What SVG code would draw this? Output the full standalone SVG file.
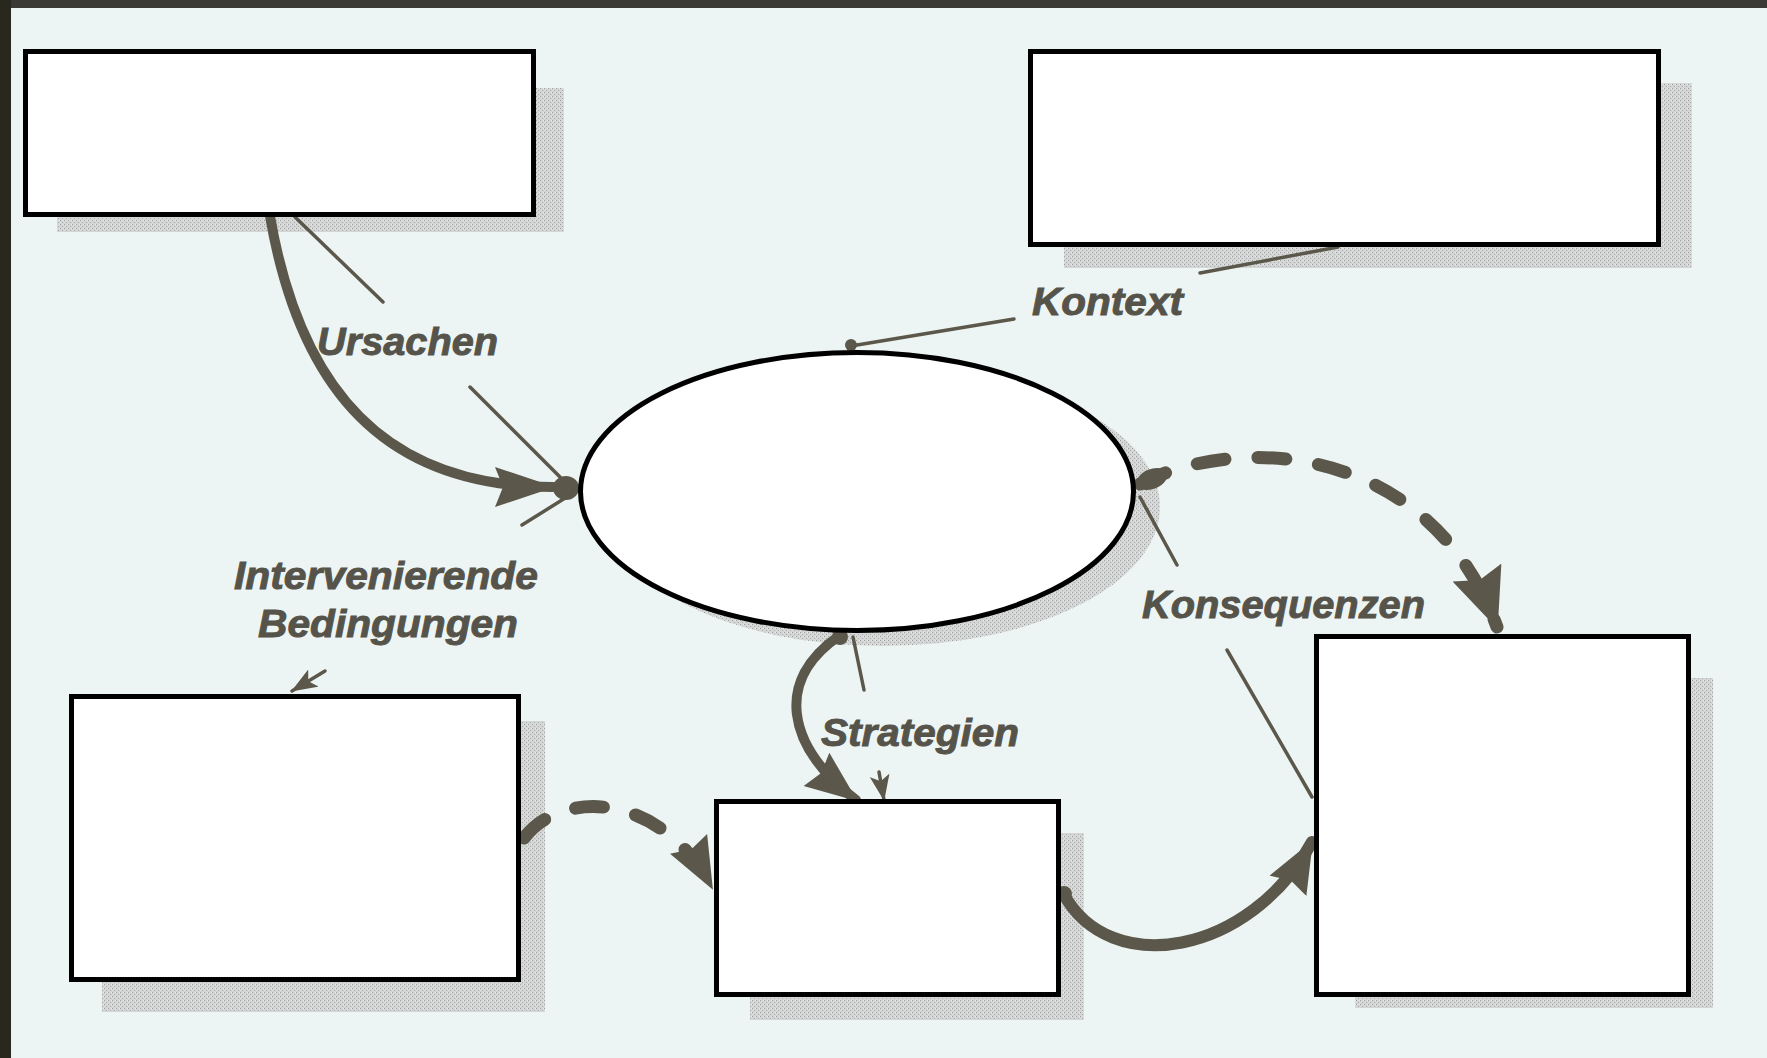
<svg xmlns="http://www.w3.org/2000/svg" width="1767" height="1058" viewBox="0 0 1767 1058">
<style>
.bg{fill:#edf5f4}
.shadow{fill:url(#stipple)}
.node{fill:#ffffff;stroke:#000000;stroke-width:5}
.thick{fill:none;stroke:#5b584b;stroke-width:10;stroke-linecap:round}
.dash{fill:none;stroke:#5b584b;stroke-width:13;stroke-linecap:round;stroke-dasharray:28 33}
.thin{fill:none;stroke:#5b584b;stroke-width:3.5;stroke-linecap:round}
.blob{fill:#5b584b}
.lbl{font-family:"Liberation Sans",Arial,sans-serif;font-weight:bold;font-style:italic;font-size:38px;fill:#55534a;stroke:#55534a;stroke-width:0.9}
</style>
<defs>
<pattern id="stipple" width="4" height="4" patternUnits="userSpaceOnUse">
<rect width="4" height="4" fill="#d4d7d6"/>
<rect x="0" y="0" width="1" height="1" fill="#9c9f9e"/>
<rect x="2" y="2" width="1" height="1" fill="#a9acab"/>
<rect x="3" y="0" width="1" height="1" fill="#e6e9e8"/>
</pattern>
<marker id="headL" markerUnits="userSpaceOnUse" viewBox="0 0 60 42" markerWidth="60" markerHeight="42" refX="58" refY="21" orient="auto">
<path d="M0,1 L60,21 L0,41 L8,21 Z" fill="#5b584b"/>
</marker>
<marker id="headXL" markerUnits="userSpaceOnUse" viewBox="0 0 60 54" markerWidth="60" markerHeight="54" refX="58" refY="27" orient="auto">
<path d="M0,1 L60,27 L0,53 L8,27 Z" fill="#5b584b"/>
</marker>
<marker id="headM" markerUnits="userSpaceOnUse" viewBox="0 0 52 44" markerWidth="52" markerHeight="44" refX="50" refY="22" orient="auto">
<path d="M0,1 L52,22 L0,43 L6,22 Z" fill="#5b584b"/>
</marker>
<marker id="headS" markerUnits="userSpaceOnUse" viewBox="0 0 26 20" markerWidth="26" markerHeight="20" refX="25" refY="10" orient="auto">
<path d="M0,0 L26,10 L0,20 L6,10 Z" fill="#5b584b"/>
</marker>
</defs>

<rect class="bg" x="0" y="0" width="1767" height="1058"/>
<rect x="0" y="0" width="1767" height="8" fill="#3b3a34"/>
<rect x="0" y="0" width="11" height="1058" fill="#29281f"/>

<g id="shadows">
<rect class="shadow" x="57" y="88" width="507" height="144"/>
<rect class="shadow" x="1064" y="83" width="628" height="185"/>
<ellipse class="shadow" cx="883" cy="507" rx="277" ry="139"/>
<rect class="shadow" x="102" y="721" width="443" height="291"/>
<rect class="shadow" x="750" y="833" width="334" height="187"/>
<rect class="shadow" x="1355" y="678" width="358" height="330"/>
</g>

<g id="connectors">
<!-- Ursachen -->
<path class="thick" d="M270,216 C300,390 385,487 553,487" marker-end="url(#headL)"/>
<line class="thin" x1="295" y1="217" x2="383" y2="302"/>
<line class="thin" x1="470" y1="387" x2="563" y2="480"/>
<ellipse class="blob" cx="566" cy="488" rx="13" ry="12"/>
<!-- Intervenierende Bedingungen -->
<line class="thin" x1="522" y1="525" x2="570" y2="495"/>
<path class="thin" d="M325,671 L292,691" marker-end="url(#headS)"/>
<!-- Kontext -->
<line class="thin" x1="851" y1="346" x2="1014" y2="319"/>
<line class="thin" x1="1200" y1="273" x2="1338" y2="247"/>
<circle class="blob" cx="851" cy="345" r="6"/>
<!-- Konsequenzen -->
<path class="dash" d="M1140,484 C1240,432 1430,445 1497,627" marker-end="url(#headXL)"/>
<ellipse class="blob" cx="1152" cy="479" rx="16" ry="10" transform="rotate(-22 1152 479)"/>
<line class="thin" x1="1140" y1="497" x2="1177" y2="565"/>
<line class="thin" x1="1227" y1="650" x2="1312" y2="797"/>
<!-- Strategien -->
<path class="thick" d="M839,636 C775,680 785,745 856,800" marker-end="url(#headM)"/>
<circle class="blob" cx="840" cy="637" r="8"/>
<line class="thin" x1="853" y1="637" x2="864" y2="690"/>
<path class="thin" d="M879,772 L884,800" marker-end="url(#headS)"/>
<!-- Bedingungen to Strategien box -->
<path class="dash" d="M524,838 C560,790 660,790 712,888" marker-end="url(#headM)"/>
<!-- Strategien box to Konsequenzen box -->
<path class="thick" style="stroke-width:12" d="M1063,893 C1110,980 1250,955 1312,842" marker-end="url(#headM)"/>
<circle class="blob" cx="1064" cy="894" r="8"/>
</g>

<g id="node-ursachen-box">
<rect class="node" x="25.5" y="51.5" width="508" height="163"/>
</g>
<g id="node-kontext-box">
<rect class="node" x="1030.5" y="51.5" width="628" height="193"/>
</g>
<g id="node-phaenomen">
<ellipse class="node" cx="857" cy="491.5" rx="276.5" ry="139"/>
</g>
<g id="node-bedingungen-box">
<rect class="node" x="71.5" y="696.5" width="447" height="283"/>
</g>
<g id="node-strategien-box">
<rect class="node" x="716.5" y="801.5" width="342" height="193"/>
</g>
<g id="node-konsequenzen-box">
<rect class="node" x="1316.5" y="636.5" width="372" height="358"/>
</g>

<g id="labels">
<text class="lbl" x="317" y="355" textLength="181" lengthAdjust="spacingAndGlyphs">Ursachen</text>
<text class="lbl" x="1032" y="315" textLength="151" lengthAdjust="spacingAndGlyphs">Kontext</text>
<text class="lbl" x="234" y="589" textLength="304" lengthAdjust="spacingAndGlyphs">Intervenierende</text>
<text class="lbl" x="258" y="637" textLength="260" lengthAdjust="spacingAndGlyphs">Bedingungen</text>
<text class="lbl" x="1142" y="618" textLength="283" lengthAdjust="spacingAndGlyphs">Konsequenzen</text>
<text class="lbl" x="821" y="746" textLength="198" lengthAdjust="spacingAndGlyphs">Strategien</text>
</g>
</svg>
